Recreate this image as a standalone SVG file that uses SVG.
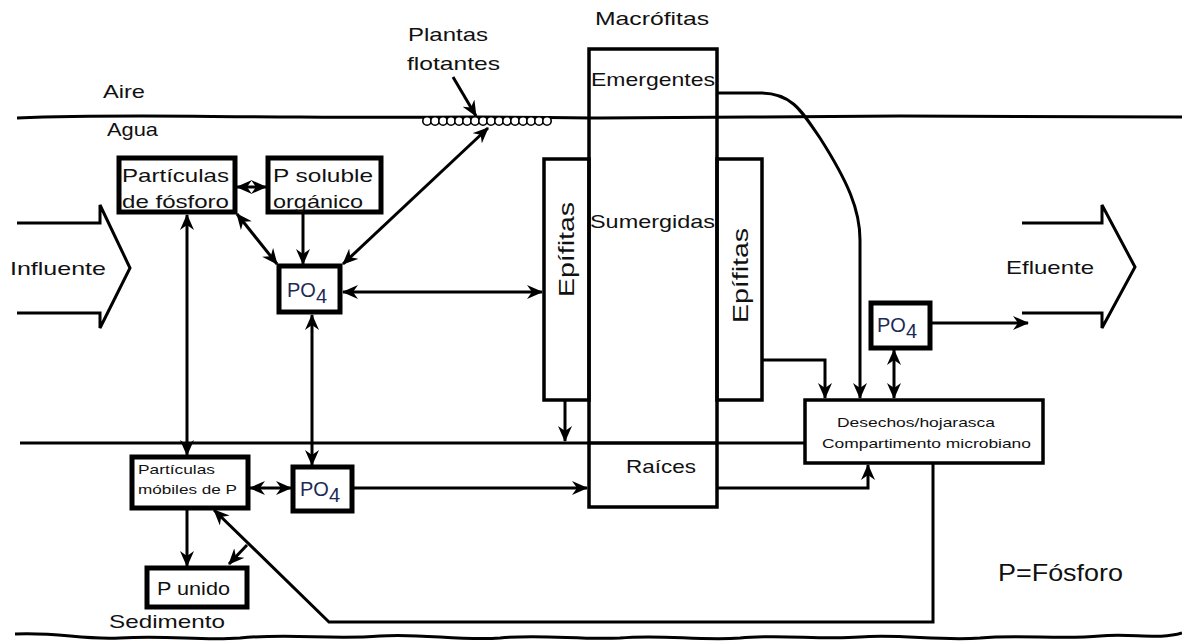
<svg xmlns="http://www.w3.org/2000/svg" width="1182" height="644" viewBox="0 0 1182 644">
<defs>
<marker id="ah" markerUnits="userSpaceOnUse" markerWidth="16" markerHeight="14" refX="15" refY="7" orient="auto-start-reverse" viewBox="0 0 16 14">
<path d="M0,0 L16,7 L0,14 L5,7 z" fill="#000"/>
</marker>
<circle id="bub" r="4.2" fill="#fff" stroke="#000" stroke-width="1.6"/>
</defs>
<style>
text{font-family:"Liberation Sans",Arial,sans-serif;fill:#111}
.lbl{font-size:19px}
.sm{font-size:13.5px}
.thick{fill:#fff;stroke:#000;stroke-width:5}
.thin{fill:none;stroke:#000;stroke-width:3.5}
.ln{fill:none;stroke:#000;stroke-width:3}
.ar{fill:none;stroke:#000;stroke-width:3;marker-end:url(#ah)}
.dar{fill:none;stroke:#000;stroke-width:3;marker-end:url(#ah);marker-start:url(#ah)}
.po{font-size:20px;fill:#1c2a55}
</style>
<rect width="1182" height="644" fill="#fff"/>

<g id="background">
<path d="M17,118 C120,114 200,117 300,117 C400,118 500,116 600,118 C700,117 800,117 900,116 C1000,117 1100,116 1182,117" class="ln" stroke-width="2.5"/>
<path d="M20,443 L805,443" class="ln"/>
<path d="M15,634 C60,632 80,640 120,638 C170,635 200,641 240,638 C290,633 330,640 380,636 C420,633 460,641 500,638 C540,634 580,640 620,638 C660,634 700,641 740,638 C780,634 820,640 860,637 C900,634 940,641 980,638 C1020,634 1060,640 1100,636 C1130,633 1160,640 1182,633" class="ln" stroke-width="2.5"/>
<text x="103" y="98" class="lbl" textLength="42" lengthAdjust="spacingAndGlyphs">Aire</text>
<text x="107" y="136" class="lbl" textLength="51" lengthAdjust="spacingAndGlyphs">Agua</text>
<text x="109" y="628" class="lbl" textLength="116" lengthAdjust="spacingAndGlyphs">Sedimento</text>
<text x="998" y="581" style="font-size:24px" textLength="125" lengthAdjust="spacingAndGlyphs">P=Fósforo</text>
</g>

<g id="influente">
<path d="M17,223 L100,223 L100,205 L130,268 L100,328 L100,313 L17,313" class="ln"/>
<text x="10" y="275" class="lbl" textLength="96" lengthAdjust="spacingAndGlyphs">Influente</text>
</g>
<g id="efluente">
<path d="M1022,223 L1102,223 L1102,205 L1135,267 L1102,328 L1102,313 L1022,313" class="ln"/>
<text x="1006" y="274" class="lbl" textLength="88" lengthAdjust="spacingAndGlyphs">Efluente</text>
</g>

<g id="plantas-flotantes">
<text x="408" y="41" class="lbl" textLength="80" lengthAdjust="spacingAndGlyphs">Plantas</text>
<text x="407" y="70" class="lbl" textLength="93" lengthAdjust="spacingAndGlyphs">flotantes</text>
<use href="#bub" x="427" y="121"/><use href="#bub" x="435" y="121"/><use href="#bub" x="443" y="121"/><use href="#bub" x="451" y="121"/>
<use href="#bub" x="459" y="121"/><use href="#bub" x="467" y="121"/><use href="#bub" x="475" y="121"/><use href="#bub" x="483" y="121"/>
<use href="#bub" x="491" y="121"/><use href="#bub" x="499" y="121"/><use href="#bub" x="507" y="121"/><use href="#bub" x="515" y="121"/>
<use href="#bub" x="523" y="121"/><use href="#bub" x="531" y="121"/><use href="#bub" x="539" y="121"/><use href="#bub" x="547" y="121"/>
</g>

<g id="particulas-fosforo">
<rect x="119" y="158" width="116" height="54" class="thick"/>
<text x="122" y="182" class="lbl" textLength="107" lengthAdjust="spacingAndGlyphs">Partículas</text>
<text x="122" y="208" class="lbl" textLength="107" lengthAdjust="spacingAndGlyphs">de fósforo</text>
</g>
<g id="p-soluble">
<rect x="268" y="158" width="113" height="54" class="thick"/>
<text x="273" y="182" class="lbl" textLength="100" lengthAdjust="spacingAndGlyphs">P soluble</text>
<text x="273" y="208" class="lbl" textLength="90" lengthAdjust="spacingAndGlyphs">orgánico</text>
</g>
<g id="po4-agua">
<rect x="279" y="266" width="61" height="46" class="thick"/>
<text x="287" y="297" class="po">PO<tspan dy="6">4</tspan></text>
</g>

<g id="macrofitas">
<text x="595" y="25" class="lbl" textLength="114" lengthAdjust="spacingAndGlyphs">Macrófitas</text>
<rect x="589" y="49" width="128" height="458" class="thin"/>
<path d="M589,443 L717,443" class="ln"/>
<text x="591" y="86" class="lbl" textLength="124" lengthAdjust="spacingAndGlyphs">Emergentes</text>
<text x="590" y="228" class="lbl" textLength="125" lengthAdjust="spacingAndGlyphs">Sumergidas</text>
<text x="626" y="473" class="lbl" textLength="70" lengthAdjust="spacingAndGlyphs">Raíces</text>
</g>
<g id="epifitas-izq">
<rect x="544" y="159" width="45" height="241" class="thin"/>
<text transform="translate(574,297) rotate(-90)" style="font-size:22px" textLength="95" lengthAdjust="spacingAndGlyphs">Epífitas</text>
</g>
<g id="epifitas-der">
<rect x="717" y="159" width="45" height="241" class="thin"/>
<text transform="translate(748,323) rotate(-90)" style="font-size:22px" textLength="95" lengthAdjust="spacingAndGlyphs">Epífitas</text>
</g>

<g id="po4-efluente">
<rect x="871" y="303" width="59" height="45" class="thick"/>
<text x="877" y="332" class="po">PO<tspan dy="6">4</tspan></text>
</g>
<g id="desechos">
<rect x="805" y="400" width="238" height="63" class="thin"/>
<text x="837" y="427" class="sm" textLength="158" lengthAdjust="spacingAndGlyphs">Desechos/hojarasca</text>
<text x="822" y="448" class="sm" textLength="209" lengthAdjust="spacingAndGlyphs">Compartimento  microbiano</text>
</g>

<g id="particulas-moviles">
<rect x="132" y="457" width="116" height="51" class="thick"/>
<text x="138" y="474" class="sm" textLength="77" lengthAdjust="spacingAndGlyphs">Partículas</text>
<text x="138" y="494" class="sm" textLength="99" lengthAdjust="spacingAndGlyphs">móbiles de P</text>
</g>
<g id="po4-sedimento">
<rect x="293" y="467" width="59" height="44" class="thick"/>
<text x="300" y="496" class="po">PO<tspan dy="6">4</tspan></text>
</g>
<g id="p-unido">
<rect x="147" y="568" width="100" height="39" class="thick"/>
<text x="157" y="595" class="lbl" textLength="73" lengthAdjust="spacingAndGlyphs">P unido</text>
</g>

<g id="connectors">
<path d="M453,77 L476,116" class="ar"/>
<path d="M237,187 L266,187" class="dar" stroke-width="2"/>
<path d="M237,214 L277,264" class="dar"/>
<path d="M303,214 L303,264" class="ar"/>
<path d="M488,128 L343,264" class="dar"/>
<path d="M343,292 L542,292" class="dar"/>
<path d="M187,215 L187,455" class="dar"/>
<path d="M312,315 L312,465" class="dar"/>
<path d="M250,488 L291,488" class="dar"/>
<path d="M354,488 L587,488" class="ar"/>
<path d="M187,510 L187,566" class="ar"/>
<path d="M565,400 L565,441" class="ar"/>
<path d="M717,93 L760,93 C790,93 800,108 820,138 C848,182 860,210 860,240 L860,398" class="ar"/>
<path d="M762,360 L825,360 L825,398" class="ar"/>
<path d="M894,350 L894,398" class="dar"/>
<path d="M931,323 L1028,323" class="ar"/>
<path d="M717,488 L868,488 L868,465" class="ar"/>
<path d="M933,463 L933,622 L329,622 L214,510" class="ar"/>
<path d="M247,545 L229,564" class="ar"/>
</g>
</svg>
